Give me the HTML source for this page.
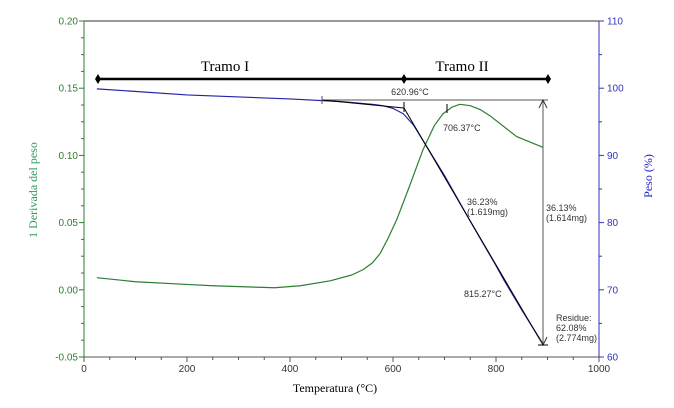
<!DOCTYPE html>
<html><head><meta charset="utf-8"><style>
body{margin:0;background:#fff}
svg{display:block}
text{font-family:"Liberation Sans",Arial,sans-serif}
.serif{font-family:"Liberation Serif",serif}
</style></head><body>
<svg id="chart" width="674" height="408" viewBox="0 0 674 408" xmlns="http://www.w3.org/2000/svg">
<g id="axes"></g><g id="series"></g><g id="annot"></g>
</svg>
<script>
const xTicks=[0,200,400,600,800,1000];
const leftTicks=[0.20,0.15,0.10,0.05,0.00,-0.05];
const rightTicks=[110,100,90,80,70,60];
const derivT=[25,100,200,250,370,420,478,520,542,560,575,590,607,630,658,680,697,715,730,750,770,790,820,840,891];
const derivV=[0.009,0.006,0.004,0.003,0.0015,0.003,0.0067,0.011,0.015,0.02,0.027,0.038,0.052,0.075,0.104,0.122,0.131,0.136,0.138,0.137,0.134,0.129,0.12,0.114,0.106];
const weightT=[25,200,400,500,560,580,600,620,640,660,700,750,800,815,850,890];
const weightV=[99.9,99,98.4,98,97.6,97.4,97,96.2,94.5,92.0,87,80.2,73.6,71.5,67,62.1];
const X0=84,X1=599,Y0=21,Y1=357;
const xs=t=>X0+(t/1000)*(X1-X0);
const yl=v=>Y1-(v+0.05)/0.25*(Y1-Y0);
const yr=v=>Y1-(v-60)/50*(Y1-Y0);
const NS="http://www.w3.org/2000/svg";
function mk(tag,attrs,parent,txt){const e=document.createElementNS(NS,tag);for(const k in attrs)e.setAttribute(k,attrs[k]);if(txt!==undefined)e.textContent=txt;document.getElementById(parent).appendChild(e);return e;}
let e=mk('line',{x1:X0,y1:Y0,x2:X1,y2:Y0,stroke:'#999','stroke-width':2},'axes');

e=mk('line',{x1:X0,y1:Y0,x2:X0,y2:Y1,stroke:'#2e7d32','stroke-width':1},'axes');

e=mk('line',{x1:X1,y1:Y0,x2:X1,y2:Y1,stroke:'#3333bb','stroke-width':1},'axes');

e=mk('line',{x1:X0,y1:Y1,x2:X1,y2:Y1,stroke:'#555','stroke-width':1},'axes');

for(let t=0;t<=1000;t+=50){e=mk('line',{x1:xs(t),y1:Y1,x2:xs(t),y2:Y1+(t%200==0?5:3),stroke:'#555'},'axes');}
xTicks.forEach(t=>{e=mk('text',{x:xs(t),y:372,'font-size':10,fill:'#333','text-anchor':'middle'},'axes',t);});
for(let i=0;i<=20;i++){const v=-0.05+i*0.0125;e=mk('line',{x1:X0,y1:yl(v),x2:X0-(i%4==0?5:3),y2:yl(v),stroke:'#2e7d32'},'axes');}
leftTicks.forEach(v=>{e=mk('text',{x:X0-6,y:yl(v)+3.5,'font-size':10,fill:'#2e7d32','text-anchor':'end'},'axes',v.toFixed(2));});
for(let i=0;i<=10;i++){const v=60+i*5;e=mk('line',{x1:X1,y1:yr(v),x2:X1+(i%2==0?5:3),y2:yr(v),stroke:'#3333bb'},'axes');}
rightTicks.forEach(v=>{e=mk('text',{x:X1+8,y:yr(v)+3.5,'font-size':10,fill:'#3333bb'},'axes',v);});
e=mk('text',{x:335,y:392,'font-size':12,fill:'#000','text-anchor':'middle',class:'serif'},'axes','Temperatura (°C)');

e=mk('text',{x:0,y:0,'font-size':12,fill:'#2e9a5a',transform:'translate(37,190) rotate(-90)','text-anchor':'middle',class:'serif','xml:space':'preserve'},'axes','1  Derivada  del  peso');

e=mk('text',{x:0,y:0,'font-size':12,fill:'#2222cc',transform:'translate(652,176) rotate(-90)','text-anchor':'middle',class:'serif'},'axes','Peso (%)');

e=mk('polyline',{points:derivT.map((t,i)=>xs(t)+','+yl(derivV[i])).join(' '),fill:'none',stroke:'#2e7d32','stroke-width':1.2,'stroke-linejoin':'round'},'series');

e=mk('polyline',{points:weightT.map((t,i)=>xs(t)+','+yr(weightV[i])).join(' '),fill:'none',stroke:'#2222aa','stroke-width':1.2,'stroke-linejoin':'round'},'series');

const A=document.getElementById('annot');
A.innerHTML=`
<line x1="98" y1="79" x2="548" y2="79" stroke="#000" stroke-width="2.5"/>
<polygon points="98,74 101,79 98,84 95,79" fill="#000"/>
<polygon points="404,74 407,79 404,84 401,79" fill="#000"/>
<polygon points="548,74 551,79 548,84 545,79" fill="#000"/>
<text class="serif" x="225" y="71" font-size="15" text-anchor="middle">Tramo I</text>
<text class="serif" x="462" y="71" font-size="15" text-anchor="middle">Tramo II</text>
<line x1="322" y1="100" x2="548" y2="100" stroke="#555"/>
<line x1="322" y1="100" x2="404" y2="108" stroke="#000"/>
<line x1="404" y1="108" x2="543" y2="345" stroke="#000"/>
<line x1="404" y1="102" x2="404" y2="112" stroke="#000"/>
<line x1="447" y1="104" x2="447" y2="113" stroke="#000"/>
<line x1="543" y1="100" x2="543" y2="345" stroke="#555"/>
<polyline points="539,108 543,100 547,108" fill="none" stroke="#333"/>
<polyline points="539,337 543,345 547,337" fill="none" stroke="#333"/>
<line x1="538" y1="345" x2="548" y2="345" stroke="#000"/>
<line x1="322" y1="96" x2="322" y2="104" stroke="#555"/>
<text x="410" y="95" font-size="9" fill="#333" text-anchor="middle">620.96°C</text>
<text x="443" y="131" font-size="9" fill="#333">706.37°C</text>
<text x="467" y="205" font-size="9" fill="#333">36.23%</text>
<text x="467" y="215" font-size="9" fill="#333">(1.619mg)</text>
<text x="546" y="211" font-size="9" fill="#333">36.13%</text>
<text x="546" y="221" font-size="9" fill="#333">(1.614mg)</text>
<text x="464" y="297" font-size="9" fill="#333">815.27°C</text>
<text x="556" y="321" font-size="9" fill="#333">Residue:</text>
<text x="556" y="331" font-size="9" fill="#333">62.08%</text>
<text x="556" y="341" font-size="9" fill="#333">(2.774mg)</text>`;
</script>
</body></html>
